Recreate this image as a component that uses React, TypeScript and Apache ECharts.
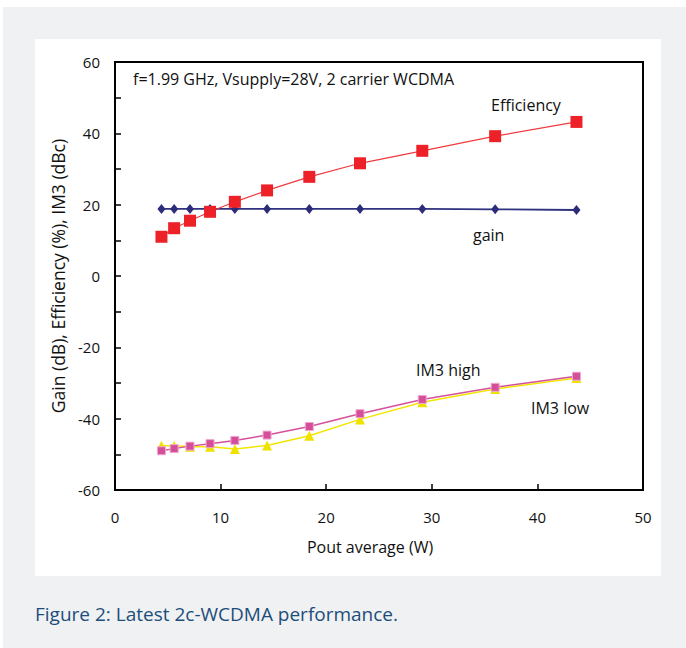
import React, { useEffect, useRef } from "react";
import * as echarts from "echarts";

// Data
const poutW = [4.4, 5.6, 7.1, 9.0, 11.35, 14.4, 18.4, 23.2, 29.1, 36.0, 43.7];
const efficiency = [11.0, 13.4, 15.5, 18.0, 20.8, 24.0, 27.8, 31.6, 35.1, 39.2, 43.2];
const gain = [18.8, 18.8, 18.8, 18.8, 18.8, 18.8, 18.8, 18.8, 18.8, 18.7, 18.5];
const im3High = [-49.0, -48.4, -47.7, -47.0, -46.1, -44.6, -42.2, -38.6, -34.6, -31.2, -28.1];
const im3Low = [-47.6, -47.6, -47.9, -47.9, -48.5, -47.5, -44.8, -40.2, -35.4, -31.7, -28.6];

const xRange = [0, 50];
const yRange = [-60, 60];

const FONT = "'Open Sans', 'Noto Sans', sans-serif";

const pairs = (ys: number[]) => poutW.map((x, i) => [x, ys[i]]);

export default function App() {
  const ref = useRef<HTMLDivElement>(null);

  useEffect(() => {
    if (!ref.current) return;
    const chart = echarts.init(ref.current, undefined, { renderer: "svg" });
    const txt = { fontFamily: FONT, fontSize: 15, color: "#111" };
    const note = `16px ${FONT}`;
    chart.setOption({
      animation: false,
      backgroundColor: "transparent",
      grid: {
        left: 115,
        top: 62,
        width: 528,
        height: 428,
        show: true,
        borderColor: "#000",
        borderWidth: 2,
        containLabel: false,
      },
      xAxis: {
        type: "value",
        min: xRange[0],
        max: xRange[1],
        interval: 10,
        name: "Pout average (W)",
        nameLocation: "middle",
        nameGap: 49,
        nameTextStyle: { ...txt, fontSize: 16, padding: [0, 18, 0, 0] },
        axisLine: { show: true, onZero: false, lineStyle: { color: "#000", width: 2 } },
        axisTick: { show: true, inside: true, length: 6, lineStyle: { color: "#000", width: 1.5 } },
        axisLabel: { ...txt, margin: 19 },
        splitLine: { show: false },
      },
      yAxis: {
        type: "value",
        min: yRange[0],
        max: yRange[1],
        interval: 10,
        name: "Gain (dB), Efficiency (%), IM3 (dBc)",
        nameLocation: "middle",
        nameGap: 47,
        nameRotate: 90,
        nameTextStyle: { ...txt, fontSize: 17.5 },
        axisLine: { show: true, onZero: false, lineStyle: { color: "#000", width: 2 } },
        axisTick: { show: true, inside: true, length: 6, lineStyle: { color: "#000", width: 1.5 } },
        axisLabel: {
          ...txt,
          margin: 15,
          formatter: (v: number) => (v % 20 === 0 ? String(v) : ""),
        },
        splitLine: { show: false },
      },
      series: [
        {
          name: "gain",
          type: "line",
          data: pairs(gain),
          symbol: "diamond",
          symbolSize: [8, 10],
          lineStyle: { color: "#2f327e", width: 1.8 },
          itemStyle: { color: "#2b2d7a" },
          z: 3,
        },
        {
          name: "Efficiency",
          type: "line",
          data: pairs(efficiency),
          symbol: "rect",
          symbolSize: 12,
          lineStyle: { color: "#ef3b40", width: 1.2 },
          itemStyle: { color: "#ec2228" },
          z: 4,
        },
        {
          name: "IM3 low",
          type: "line",
          data: pairs(im3Low),
          symbol: "triangle",
          symbolSize: 10,
          lineStyle: { color: "#f2e600", width: 1.5 },
          itemStyle: { color: "#f0e200" },
          z: 3,
        },
        {
          name: "IM3 high",
          type: "line",
          data: pairs(im3High),
          symbol: "rect",
          symbolSize: 8,
          lineStyle: { color: "#d6509c", width: 1.5 },
          itemStyle: { color: "#d44f9a", borderColor: "#f1a7d0", borderWidth: 1 },
          z: 4,
        },
      ],
      graphic: [
        { type: "text", left: 133, top: 71, style: { text: "f=1.99 GHz, Vsupply=28V, 2 carrier WCDMA", font: note, fill: "#111" } },
        { type: "text", left: 491, top: 97, style: { text: "Efficiency", font: note, fill: "#111" } },
        { type: "text", left: 473, top: 227, style: { text: "gain", font: note, fill: "#111" } },
        { type: "text", left: 416, top: 362, style: { text: "IM3 high", font: note, fill: "#111" } },
        { type: "text", left: 531, top: 400, style: { text: "IM3 low", font: note, fill: "#111" } },
        { type: "text", left: 35, top: 604, style: { text: "Figure 2: Latest 2c-WCDMA performance.", font: `19px ${FONT}`, fill: "#1d4d7a" } },
      ],
    });
    return () => chart.dispose();
  }, []);

  return (
    <div style={{ position: "fixed", left: 0, top: 0, width: 686, height: 648, background: "#fff", overflow: "hidden" }}>
      <div style={{ position: "absolute", left: 3, top: 7, width: 683, height: 641, background: "#f0f1f3" }} />
      <div style={{ position: "absolute", left: 35, top: 39, width: 626, height: 537, background: "#fff" }} />
      <div ref={ref} style={{ position: "absolute", left: 0, top: 0, width: 686, height: 648 }} />
    </div>
  );
}
